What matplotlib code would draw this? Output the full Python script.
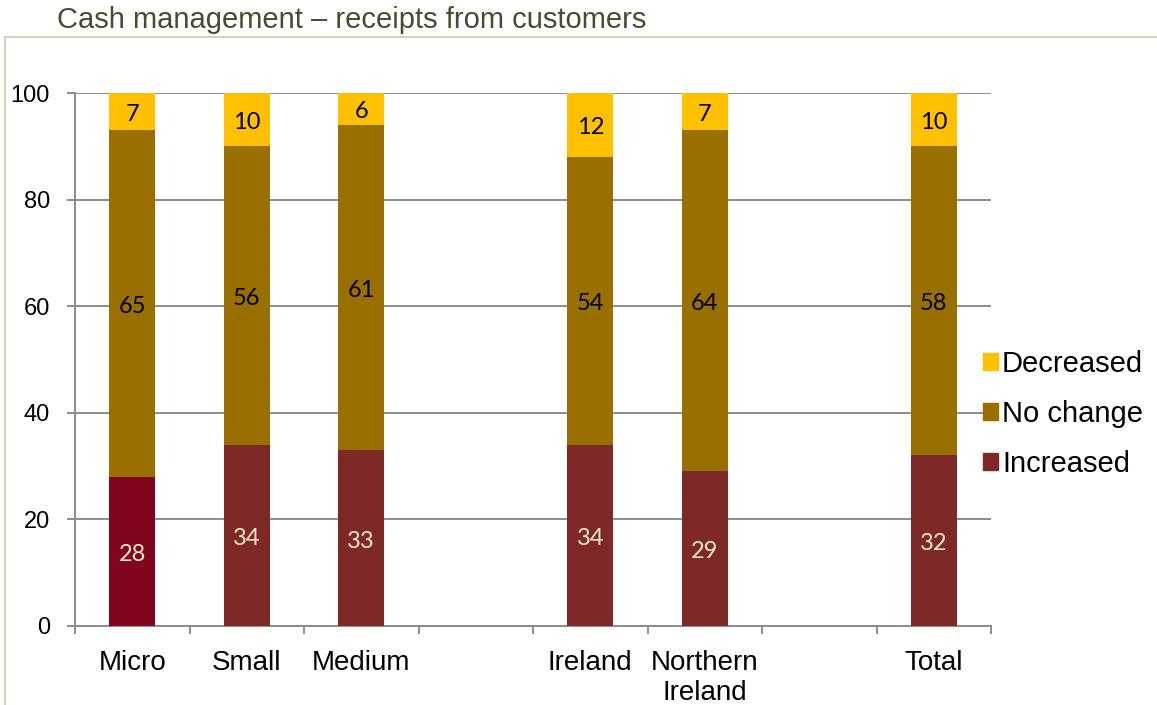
import matplotlib
matplotlib.use("Agg")
from matplotlib import pyplot as plt
from matplotlib.lines import Line2D
from matplotlib.patches import Patch
import matplotlib.transforms as mtransforms
import numpy as np

# slots on the x axis, blank strings leave gaps between groups
slots = ["Micro", "Small", "Medium", "", "Ireland", "Northern\nIreland", "", "Total"]
groups = ["Micro", "Small", "Medium", "Ireland", "Northern\nIreland", "Total"]

increased = [28, 34, 33, 34, 29, 32]
no_change = [65, 56, 61, 54, 64, 58]
decreased = [7, 10, 6, 12, 7, 10]

c_dec = "#FFC000"
c_same = "#997000"
c_inc = "#7F2828"
c_inc_micro = "#80051E"

fig = plt.figure(figsize=(11.57, 7.05), dpi=100)
ax = fig.add_axes([75 / 1157, 79 / 705, (991 - 75) / 1157, (626 - 93) / 705])

x = np.array([slots.index(g) for g in groups])
w = 0.4
inc_colors = [c_inc_micro] + [c_inc] * (len(groups) - 1)

ax.bar(x, increased, w, color=inc_colors, zorder=3)
ax.bar(x, no_change, w, bottom=increased, color=c_same, zorder=3)
ax.bar(x, decreased, w, bottom=np.add(increased, no_change), color=c_dec, zorder=3)

# nudge the segment labels a little downwards
shift = mtransforms.offset_copy(ax.transData, fig=fig, x=0, y=-3, units="dots")
lab_font = dict(family=["Lato", "DejaVu Sans"], fontsize=17, ha="center", va="center",
                zorder=4, transform=shift)
for xi, a, b, c in zip(x, increased, no_change, decreased):
    ax.text(xi, a / 2, str(a), color="#F2E8CC", **lab_font)
    ax.text(xi, a + b / 2, str(b), color="black", **lab_font)
    ax.text(xi, a + b + c / 2, str(c), color="black", **lab_font)

ax.set_xlim(-0.5, len(slots) - 0.5)
ax.set_ylim(0, 100)
ax.set_yticks(np.arange(0, 101, 20))
ax.set_xticks(np.arange(len(slots)))
ax.set_xticklabels(slots)
ax.set_xticks(np.arange(len(slots) + 1) - 0.5, minor=True)

grey = "#8C8C8C"
ax.grid(axis="y", color=grey, linewidth=1.4, zorder=0)
for s in ["top", "right"]:
    ax.spines[s].set_visible(False)
for s in ["left", "bottom"]:
    ax.spines[s].set_color(grey)
    ax.spines[s].set_linewidth(1.4)

ax.tick_params(axis="x", which="major", length=0, pad=17, labelsize=20)
ax.tick_params(axis="x", which="minor", length=6, width=1.4, color=grey)
ax.tick_params(axis="y", length=6, width=1.4, color=grey, pad=12, labelsize=17)
for t in ax.get_xticklabels() + ax.get_yticklabels():
    t.set_fontfamily(["Liberation Sans", "DejaVu Sans"])

handles = [Patch(color=c_dec, label="Decreased"),
           Patch(color=c_same, label="No change"),
           Patch(color=c_inc, label="Increased")]
fig.legend(handles=handles, loc="center left", bbox_to_anchor=(983 / 1157, 291 / 705),
           frameon=False, borderpad=0, borderaxespad=0, handlelength=0.5, handleheight=0.5,
           handletextpad=0.15, labelspacing=0.75,
           prop=dict(family=["Liberation Sans", "DejaVu Sans"], size=21))

# outer frame (top and left edges)
frame = "#D8D2B4"
fig.add_artist(Line2D([5 / 1157, 1], [668 / 705, 668 / 705], color=frame, linewidth=1.5,
                      transform=fig.transFigure))
fig.add_artist(Line2D([5 / 1157, 5 / 1157], [0, 668 / 705], color=frame, linewidth=1.5,
                      transform=fig.transFigure))

fig.text(57 / 1157, 677 / 705, "Cash management \u2013 receipts from customers",
         color="#4A4A32", fontsize=21, va="baseline", ha="left",
         family=["Liberation Sans", "DejaVu Sans"])

fig.savefig("out.png", dpi=100)
